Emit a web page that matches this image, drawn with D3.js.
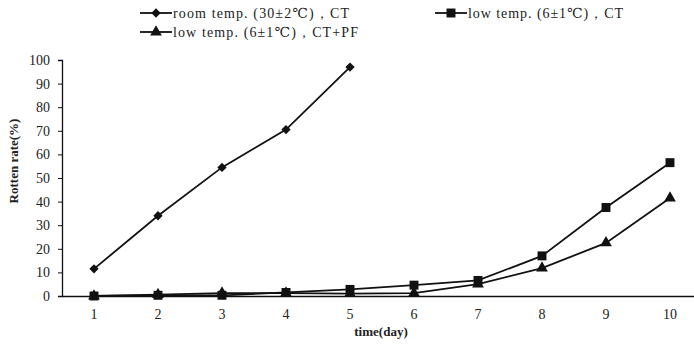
<!DOCTYPE html>
<html>
<head>
<meta charset="utf-8">
<script src="https://cdn.jsdelivr.net/npm/d3@7"></script>
<style>
  body { margin: 0; background: #fff; }
  svg text { font-family: "Liberation Serif", "DejaVu Serif", serif; fill: #222; }
</style>
</head>
<body>
<svg id="chart" width="694" height="344"></svg>
<script>
var days = ['1', '2', '3', '4', '5', '6', '7', '8', '9', '10'];
var yTicks = [0, 10, 20, 30, 40, 50, 60, 70, 80, 90, 100];

var roomCT = [11.5, 34, 54.5, 70.5, 97];
var lowCT = [0, 0.3, 0.3, 1.5, 2.8, 4.6, 6.6, 17, 37.5, 56.5];
var lowCTPF = [0, 0.6, 1.2, 1.2, 1, 1.2, 5, 11.8, 22.5, 41.5];

var seriesNames = ['room temp. (30\u00b12\u2103)\uff0cCT', 'low temp. (6\u00b11\u2103)\uff0cCT', 'low temp. (6\u00b11\u2103)\uff0cCT+PF'];

var svg = d3.select('#chart');
var margin = { left: 62, top: 60, bottom: 296 };

var x = d3.scaleBand().domain(days).range([margin.left, margin.left + 640]);
var y = d3.scaleLinear().domain([0, 100]).range([margin.bottom, margin.top]);

function cx(d, i) { return x(days[i]) + x.bandwidth() / 2; }

// axes
var yAxis = svg.append('g')
	.attr('transform', 'translate(' + margin.left + ',0)')
	.call(d3.axisLeft(y).tickValues(yTicks).tickSize(4).tickPadding(8));
yAxis.select('.domain').attr('stroke', '#111').attr('stroke-width', 1.3);
yAxis.selectAll('.tick line').attr('stroke', '#111');
yAxis.selectAll('.tick text').style('font-size', '14px').attr('fill', '#444');

var xAxis = svg.append('g')
	.attr('transform', 'translate(0,' + margin.bottom + ')')
	.call(d3.axisBottom(x).tickSize(0).tickPadding(13).tickSizeOuter(0));
xAxis.select('.domain').attr('stroke', '#111').attr('stroke-width', 1.3);
xAxis.selectAll('.tick text').style('font-size', '14px').attr('fill', '#444');

// titles
svg.append('text')
	.attr('transform', 'translate(18,161) rotate(-90)')
	.attr('text-anchor', 'middle')
	.style('font-size', '13px')
	.style('font-weight', 'bold')
	.text('Rotten rate(%)');

svg.append('text')
	.attr('x', 381)
	.attr('y', 336)
	.attr('text-anchor', 'middle')
	.style('font-size', '13px')
	.style('font-weight', 'bold')
	.text('time(day)');

var line = d3.line().x(cx).y(function(d){ return y(d); });

var symbols = [
	d3.symbol().type(d3.symbolDiamond2).size(55),
	d3.symbol().type(d3.symbolSquare).size(80),
	d3.symbol().type(d3.symbolTriangle).size(60)
];
var allSeries = [roomCT, lowCT, lowCTPF];

allSeries.forEach(function(vals, s){
	svg.append('path')
		.datum(vals)
		.attr('d', line)
		.attr('fill', 'none')
		.attr('stroke', '#111')
		.attr('stroke-width', 1.8);
	svg.selectAll('.m' + s)
		.data(vals)
		.enter().append('path')
		.attr('class', 'm' + s)
		.attr('transform', function(d, i){ return 'translate(' + cx(d, i) + ',' + y(d) + ')'; })
		.attr('d', symbols[s])
		.attr('fill', '#111');
});

// legend
var legendPos = [[156, 13], [451, 13], [156, 32]];
var legendWidths = [176, 155, 185];
legendPos.forEach(function(p, s){
	var g = svg.append('g').attr('transform', 'translate(' + p[0] + ',' + p[1] + ')');
	g.append('line').attr('x1', -16).attr('x2', 16).attr('stroke', '#111').attr('stroke-width', 1.8);
	g.append('path').attr('d', symbols[s]).attr('fill', '#111');
	g.append('text')
		.attr('x', 17)
		.attr('dy', '0.35em')
		.attr('textLength', legendWidths[s])
		.attr('lengthAdjust', 'spacing')
		.style('font-size', '14px')
		.attr('fill', '#333')
		.text(seriesNames[s]);
});
</script>
</body>
</html>
